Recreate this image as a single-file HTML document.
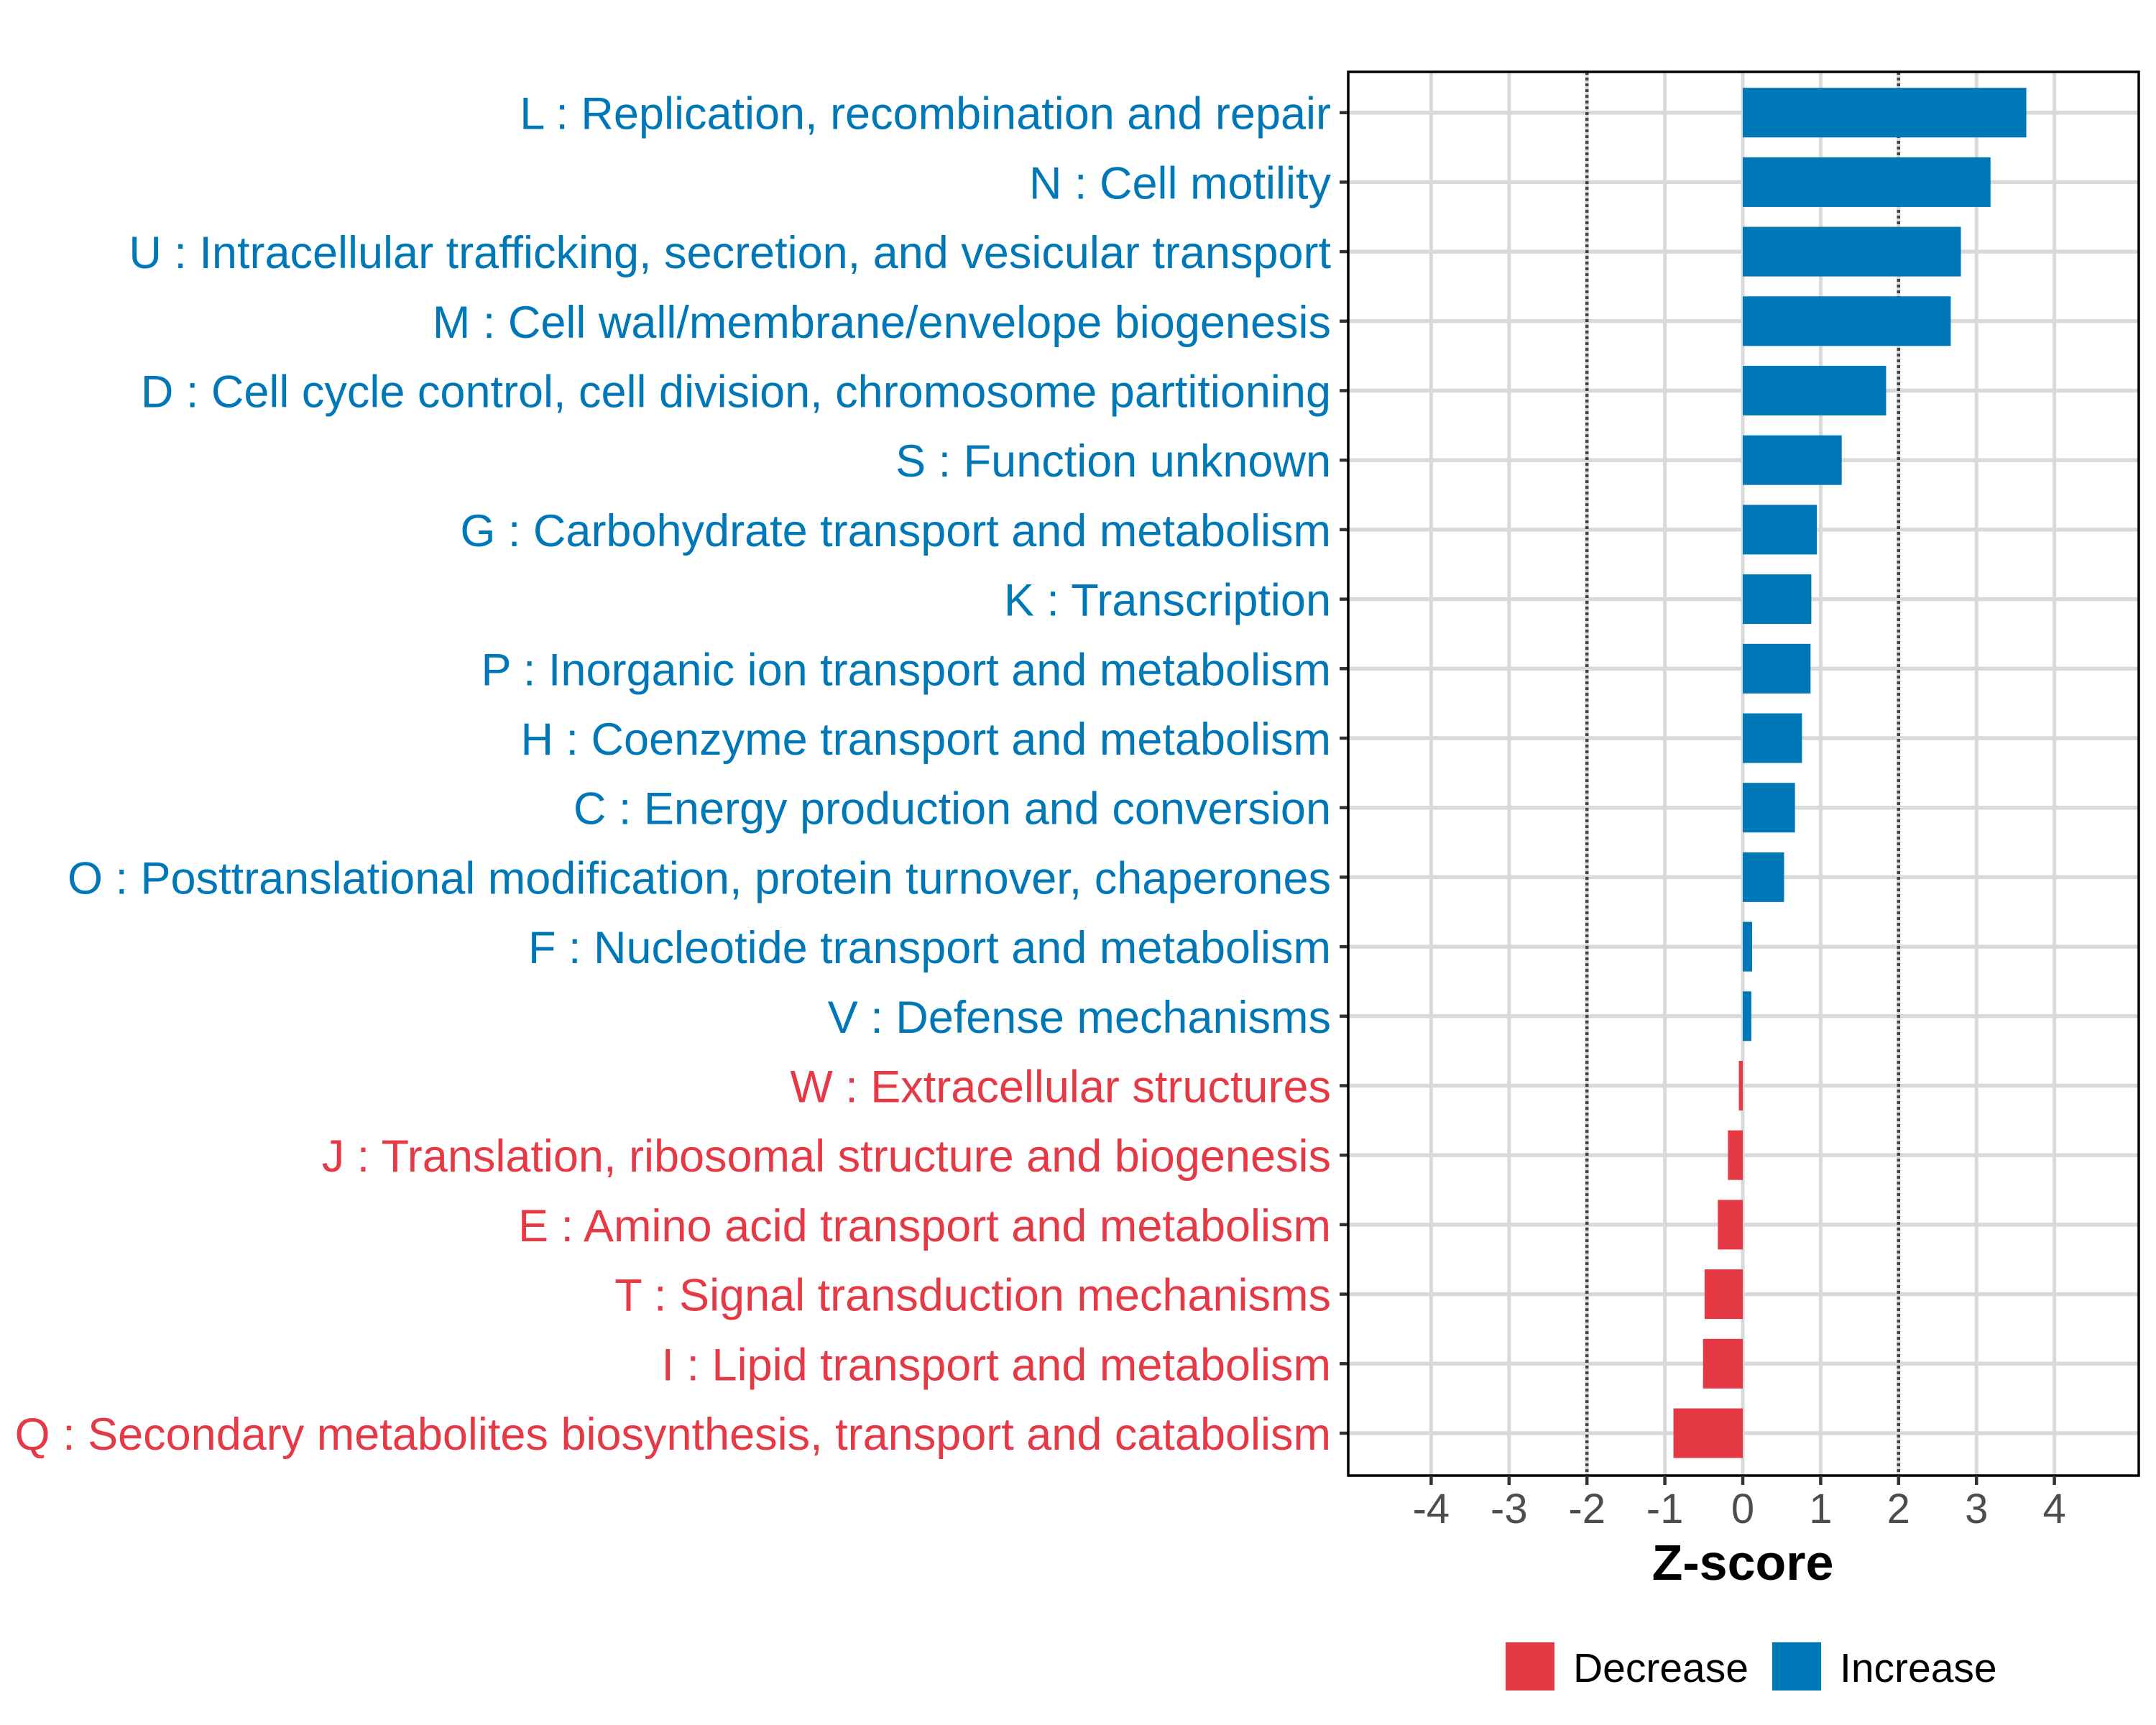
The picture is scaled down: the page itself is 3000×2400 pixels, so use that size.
<!DOCTYPE html>
<html><head><meta charset="utf-8"><style>html,body{margin:0;padding:0;background:#fff}svg{display:block}</style></head>
<body>
<svg id="chart" width="3000" height="2400" viewBox="0 0 3000 2400" xmlns="http://www.w3.org/2000/svg" font-family="'Liberation Sans', Arial, sans-serif">
<rect width="3000" height="2400" fill="#fff"/>
<g id="grid"></g><g id="bars"></g><g id="axes"></g>
</svg>
<script>
const categories = [
"L : Replication, recombination and repair",
"N : Cell motility",
"U : Intracellular trafficking, secretion, and vesicular transport",
"M : Cell wall/membrane/envelope biogenesis",
"D : Cell cycle control, cell division, chromosome partitioning",
"S : Function unknown",
"G : Carbohydrate transport and metabolism",
"K : Transcription",
"P : Inorganic ion transport and metabolism",
"H : Coenzyme transport and metabolism",
"C : Energy production and conversion",
"O : Posttranslational modification, protein turnover, chaperones",
"F : Nucleotide transport and metabolism",
"V : Defense mechanisms",
"W : Extracellular structures",
"J : Translation, ribosomal structure and biogenesis",
"E : Amino acid transport and metabolism",
"T : Signal transduction mechanisms",
"I : Lipid transport and metabolism",
"Q : Secondary metabolites biosynthesis, transport and catabolism"];
const zscores = [3.64,3.18,2.80,2.67,1.84,1.27,0.95,0.88,0.87,0.76,0.67,0.53,0.12,0.11,-0.05,-0.19,-0.32,-0.49,-0.51,-0.89];
const xTicks = [-4,-3,-2,-1,0,1,2,3,4];
const thresholds = [-2,2];

const NS='http://www.w3.org/2000/svg';
const L=1876,R=2976,T=100,B=2053;
const x = v => 2425 + v*108.4;
const y = i => 156.7 + i*96.7;
const BLUE='#0077b6', RED='#e63946';
function mk(tag,attrs,parent,text){const e=document.createElementNS(NS,tag);for(const k in attrs)e.setAttribute(k,attrs[k]);if(text!==undefined)e.textContent=text;parent.appendChild(e);return e;}
const grid=document.getElementById('grid'),bars=document.getElementById('bars'),axes=document.getElementById('axes');
xTicks.forEach(t=>{const l=mk('line',{x1:x(t),x2:x(t),y1:T,y2:B,stroke:'#d9d9d9','stroke-width':5},grid);

});
categories.forEach((c,i)=>{const l=mk('line',{x1:L,x2:R,y1:y(i),y2:y(i),stroke:'#d9d9d9','stroke-width':5.5},grid);

});
thresholds.forEach(t=>{const l=mk('line',{x1:x(t),x2:x(t),y1:T,y2:B,stroke:'#444','stroke-width':4.5,'stroke-dasharray':'4 4'},grid);

});
categories.forEach((c,i)=>{const v=zscores[i];const x0=Math.min(x(0),x(v)),w=Math.abs(x(v)-x(0));
const r=mk('rect',{x:x0,y:y(i)-34.5,width:w,height:69,fill:v>=0?BLUE:RED},bars);


const tk=mk('line',{x1:L-12,x2:L,y1:y(i),y2:y(i),stroke:'#333','stroke-width':4.5},axes);


const tx=mk('text',{x:1852,y:y(i)+23,'text-anchor':'end','font-size':63,fill:v>=0?BLUE:RED},axes,c);

});
const border=mk('rect',{x:L,y:T,width:R-L,height:B-T,fill:'none',stroke:'#000','stroke-width':3.5},axes);


xTicks.forEach(t=>{const tk=mk('line',{x1:x(t),x2:x(t),y1:B,y2:B+13,stroke:'#333','stroke-width':4.5},axes);


const tx=mk('text',{x:x(t),y:2119,'text-anchor':'middle','font-size':58,fill:'#4d4d4d'},axes,String(t));

});
const xt=mk('text',{x:x(0),y:2198,'text-anchor':'middle','font-size':70,'font-weight':'bold',fill:'#000'},axes,'Z-score');


const legend=mk('g',{},axes);


[['Decrease',RED,2095,2189],['Increase',BLUE,2466,2560]].forEach(([lab,col,sx,tx0])=>{
const s=mk('rect',{x:sx,y:2285,width:68,height:67,fill:col},legend);


const t=mk('text',{x:tx0,y:2340,'font-size':57,fill:'#000'},legend,lab);

});
</script>
</body></html>
